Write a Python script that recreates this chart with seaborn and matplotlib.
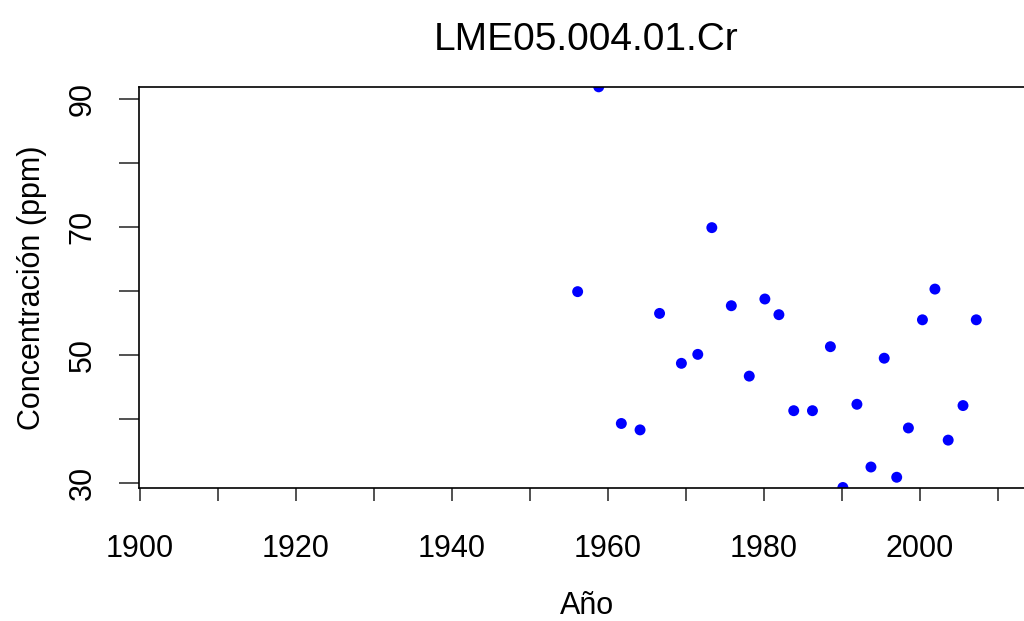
import matplotlib
matplotlib.use("Agg")
import matplotlib.pyplot as plt
import seaborn as sns
import pandas as pd

# Data
years = [1956.1, 1958.8, 1961.7, 1964.1, 1966.6, 1969.4, 1971.5, 1973.3, 1975.8,
         1978.1, 1980.1, 1981.9, 1983.8, 1986.2, 1988.5, 1990.1, 1991.9, 1993.7,
         1995.4, 1997.0, 1998.5, 2000.3, 2001.9, 2003.6, 2005.5, 2007.2]
conc = [59.9, 91.9, 39.3, 38.3, 56.5, 48.7, 50.1, 69.9, 57.7,
        46.7, 58.75, 56.3, 41.3, 41.3, 51.3, 29.3, 42.3, 32.5,
        49.5, 30.9, 38.6, 55.5, 60.3, 36.7, 42.1, 55.5]

x_ticks = [1900, 1910, 1920, 1930, 1940, 1950, 1960, 1970, 1980, 1990, 2000, 2010]
x_labels = ["1900", "", "1920", "", "1940", "", "1960", "", "1980", "", "2000", ""]
y_ticks = [30, 40, 50, 60, 70, 80, 90]
y_labels = ["30", "", "50", "", "70", "", "90"]

title = "LME05.004.01.Cr"
xlabel = "Año"
ylabel = "Concentración (ppm)"

sns.set_style("white")
plt.rcParams['font.family'] = ['Liberation Sans', 'DejaVu Sans']
plt.rcParams['text.color'] = 'black'
plt.rcParams['axes.labelcolor'] = 'black'
plt.rcParams['xtick.color'] = 'black'
plt.rcParams['ytick.color'] = 'black'

W, H = 1024, 621
fig = plt.figure(figsize=(W / 100, H / 100), dpi=100)
ax = fig.add_axes([139 / W, 1 - 488 / H, (1034 - 139) / W, (488 - 87) / H])

df = pd.DataFrame({xlabel: years, ylabel: conc})
sns.scatterplot(data=df, x=xlabel, y=ylabel, ax=ax, color="#0000ff", s=62,
                edgecolor="none", linewidth=0, legend=False)

ax.set_xlim(1899.87, 2014.6)
ax.set_ylim(29.22, 91.875)

ax.set_xticks(x_ticks)
ax.set_xticklabels(x_labels)
ax.set_yticks(y_ticks)
ax.set_yticklabels(y_labels, rotation=90, va="center")

for side in ["left", "bottom", "top"]:
    ax.spines[side].set_visible(True)
    ax.spines[side].set_color("black")
    ax.spines[side].set_linewidth(1.2)
ax.spines["right"].set_visible(False)

ax.tick_params(axis="x", direction="out", length=13 * 0.72, width=1.1, color="#222222",
               labelsize=22, pad=23.5, bottom=True, labelcolor="black")
ax.tick_params(axis="y", direction="out", length=20 * 0.72, width=1.1, color="#222222",
               labelsize=22, pad=15.5, left=True, labelcolor="black")

ax.set_xlabel(xlabel, fontsize=22, labelpad=20, color="black")
ax.set_ylabel(ylabel, fontsize=22, labelpad=15, color="black")
ax.set_title(title, fontsize=28, pad=26.6, color="black")

fig.savefig("out.png", dpi=100)
